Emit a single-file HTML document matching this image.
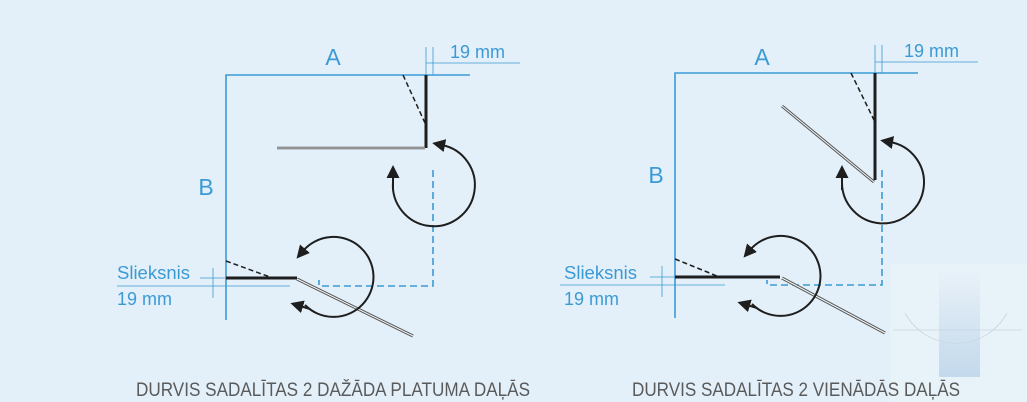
<!DOCTYPE html>
<html><head><meta charset="utf-8"><style>
html,body{margin:0;padding:0;background:#e3f0f9;}
svg{display:block}
text{font-family:"Liberation Sans",sans-serif;}
</style></head><body>
<svg width="1027" height="402" viewBox="0 0 1027 402" xmlns="http://www.w3.org/2000/svg">
<defs>
<marker id="ah" markerWidth="13" markerHeight="13" refX="3" refY="6.5" orient="auto" markerUnits="userSpaceOnUse">
<path d="M0,0 L13,6.5 L0,13 z" fill="#1e1e1e"/>
</marker>
<linearGradient id="wg" x1="0" y1="0" x2="0" y2="1">
<stop offset="0" stop-color="#e8f1f8"/><stop offset="1" stop-color="#c3d9ec"/>
</linearGradient>
</defs>
<rect width="1027" height="402" fill="#e3f0f9"/>
<!-- watermark -->
<rect x="890" y="264" width="137" height="138" fill="#e8f2f9"/>
<rect x="939" y="272" width="41" height="105" fill="url(#wg)"/>
<path d="M905,313 A58,58 0 0 0 1007,313" stroke="#c9d6e0" fill="none" stroke-width="0.8"/>
<path d="M893,330 H1022" stroke="#c9d6e0" stroke-width="0.8"/>

<!-- LEFT -->
<g stroke="#3b9ad5" fill="none" stroke-width="1.6">
<path d="M226,320 V75 H470"/>
<path d="M426,47 V75 M433,47 V75" stroke-width="0.8"/>
<path d="M426,63 H520" stroke-width="0.8"/>
<path d="M433,170 V286 H319 V280" stroke-dasharray="7,4"/>
<path d="M117,286 H290 M200,278 H226 M213,268 V298" stroke-width="0.8"/>
</g>
<text x="333" y="65" fill="#3b9ad5" font-size="23" text-anchor="middle">A</text>
<text x="206" y="195" fill="#3b9ad5" font-size="23" text-anchor="middle">B</text>
<text x="450" y="58" fill="#3b9ad5" font-size="18">19 mm</text>
<text x="117" y="279" fill="#3b9ad5" font-size="18.5">Slieksnis</text>
<text x="117" y="305" fill="#3b9ad5" font-size="18">19 mm</text>
<g stroke="#1e1e1e" fill="none">
<path d="M426,75 V148" stroke-width="3"/>
<path d="M403,75 L425,123" stroke-width="1.5" stroke-dasharray="5,3"/>
<path d="M226,278 H297" stroke-width="3"/>
<path d="M226,261 L270,277" stroke-width="1.5" stroke-dasharray="5,3"/>
<path d="M277,148 H425" stroke="#555" stroke-width="2.4"/>
<path d="M277,148 H425" stroke="#f4f8fb" stroke-width="0.8"/>
<path d="M297,279 L413,336" stroke="#555" stroke-width="3"/>
<path d="M297,279 L413,336" stroke="#f4f8fb" stroke-width="1"/>
<path d="M393,182 A41,41 0 1 0 442,145" stroke-width="2" marker-end="url(#ah)"/>
<path d="M393,190 L393,175" stroke-width="2" marker-end="url(#ah)"/>
<path d="M305,305 A40,40 0 1 0 303,251" stroke-width="2" marker-end="url(#ah)"/>
<path d="M310,309 L300,306" stroke-width="2" marker-end="url(#ah)"/>
</g>

<!-- RIGHT -->
<g stroke="#3b9ad5" fill="none" stroke-width="1.6">
<path d="M675,318 V73 H918"/>
<path d="M875,45 V73 M882,45 V73" stroke-width="0.8"/>
<path d="M875,62 H978" stroke-width="0.8"/>
<path d="M882,170 V285 H767 V280" stroke-dasharray="7,4"/>
<path d="M560,285 H725 M650,277 H675 M662,266 V297" stroke-width="0.8"/>
</g>
<text x="762" y="65" fill="#3b9ad5" font-size="23" text-anchor="middle">A</text>
<text x="656" y="183" fill="#3b9ad5" font-size="23" text-anchor="middle">B</text>
<text x="904" y="57" fill="#3b9ad5" font-size="18">19 mm</text>
<text x="564" y="279" fill="#3b9ad5" font-size="18.5">Slieksnis</text>
<text x="564" y="305" fill="#3b9ad5" font-size="18">19 mm</text>
<g stroke="#1e1e1e" fill="none">
<path d="M875,73 V180" stroke-width="3"/>
<path d="M851,73 L874,120" stroke-width="1.5" stroke-dasharray="5,3"/>
<path d="M675,277 H780" stroke-width="3"/>
<path d="M675,259 L717,276" stroke-width="1.5" stroke-dasharray="5,3"/>
<path d="M782,106 L874,182" stroke="#555" stroke-width="3"/>
<path d="M782,106 L874,182" stroke="#f4f8fb" stroke-width="1"/>
<path d="M782,278 L885,333" stroke="#555" stroke-width="3"/>
<path d="M782,278 L885,333" stroke="#f4f8fb" stroke-width="1"/>
<path d="M842,182 A41,41 0 1 0 890,142" stroke-width="2" marker-end="url(#ah)"/>
<path d="M842,190 L842,175" stroke-width="2" marker-end="url(#ah)"/>
<path d="M752,304 A40,40 0 1 0 750,250" stroke-width="2" marker-end="url(#ah)"/>
<path d="M757,308 L747,305" stroke-width="2" marker-end="url(#ah)"/>
</g>

<text x="136" y="396" fill="#5a5a5a" font-size="19" textLength="394" lengthAdjust="spacingAndGlyphs">DURVIS SADALĪTAS 2 DAŽĀDA PLATUMA DAĻĀS</text>
<text x="632" y="396" fill="#5a5a5a" font-size="19" textLength="328" lengthAdjust="spacingAndGlyphs">DURVIS SADALĪTAS 2 VIENĀDĀS DAĻĀS</text>
</svg>
</body></html>
